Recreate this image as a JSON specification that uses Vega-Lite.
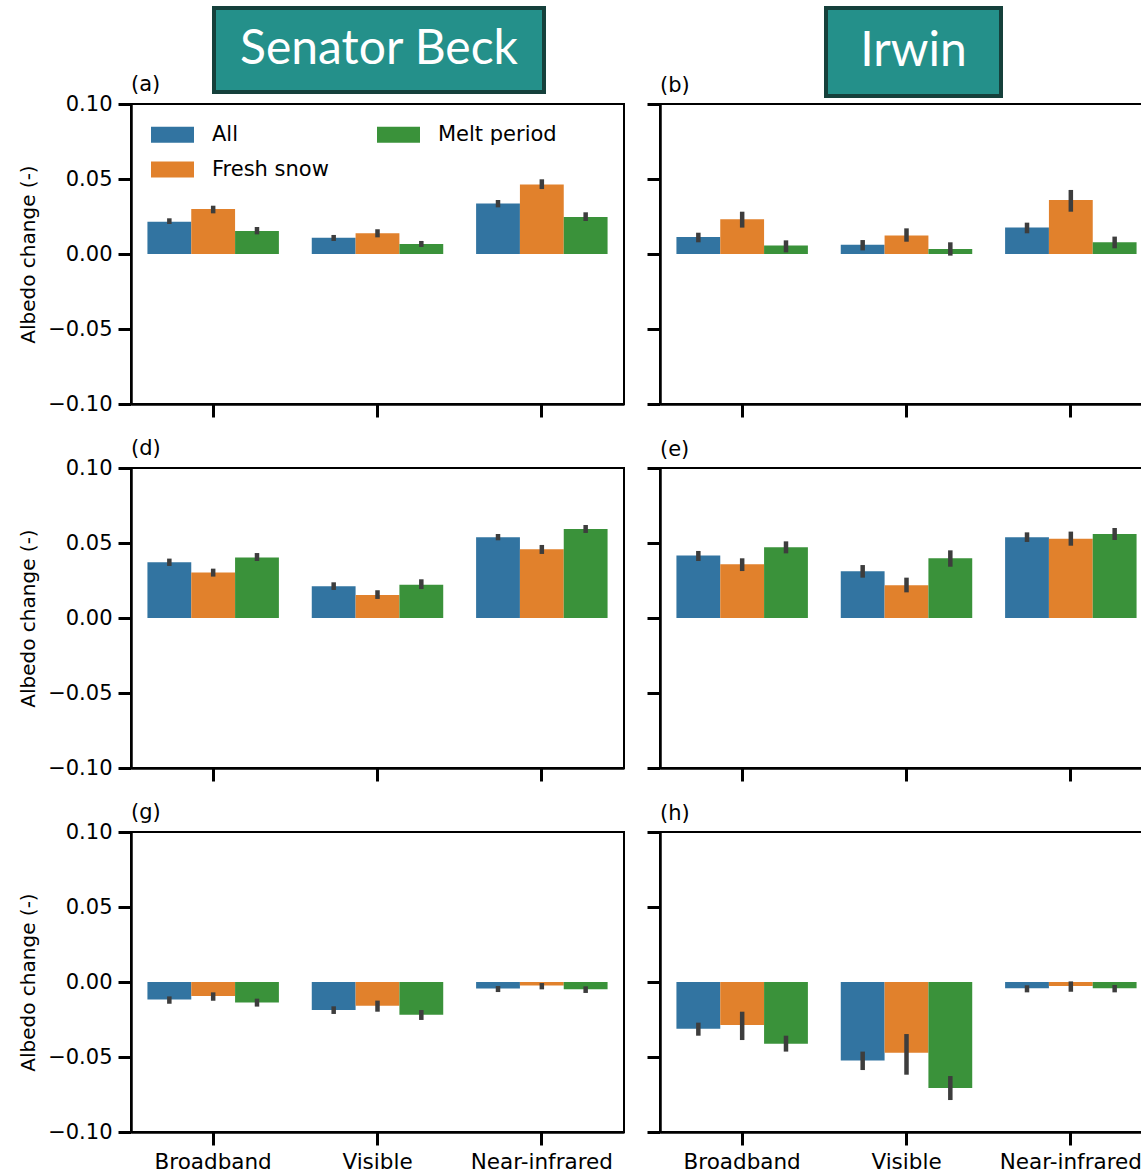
{
  "$schema": "https://vega.github.io/schema/vega-lite/v6.json",
  "padding": {"left": 17, "top": 6, "right": 0, "bottom": 0},
  "bounds": "flush",
  "spacing": 96,
  "config": {
    "view": {"stroke": "black", "strokeWidth": 2},
    "axis": {
      "domainColor": "black", "domainWidth": 2.5,
      "tickColor": "black", "tickWidth": 3, "tickSize": 13,
      "labelFont": "DejaVu Sans", "labelFontSize": 21, "labelColor": "black", "labelPadding": 6,
      "titleFont": "DejaVu Sans", "titleFontSize": 20, "titleFontWeight": "normal", "titleColor": "black",
      "grid": false
    },
    "axisX": {"labelFontSize": 21.5},
    "title": {"font": "DejaVu Sans", "fontSize": 21, "fontWeight": "normal", "anchor": "start", "frame": "group", "color": "black", "offset": 8},
    "legend": {"labelFont": "DejaVu Sans", "labelFontSize": 21, "labelColor": "black"}
  },
  "datasets": {
    "bars": [
      {"panel": "a", "band": "Broadband", "cond": "All", "value": 0.0215, "lo": 0.0200, "hi": 0.0238},
      {"panel": "a", "band": "Broadband", "cond": "Fresh snow", "value": 0.0300, "lo": 0.0271, "hi": 0.0322},
      {"panel": "a", "band": "Broadband", "cond": "Melt period", "value": 0.0153, "lo": 0.0131, "hi": 0.0180},
      {"panel": "a", "band": "Visible", "cond": "All", "value": 0.0109, "lo": 0.0087, "hi": 0.0127},
      {"panel": "a", "band": "Visible", "cond": "Fresh snow", "value": 0.0138, "lo": 0.0111, "hi": 0.0165},
      {"panel": "a", "band": "Visible", "cond": "Melt period", "value": 0.0067, "lo": 0.0047, "hi": 0.0087},
      {"panel": "a", "band": "Near-infrared", "cond": "All", "value": 0.0336, "lo": 0.0311, "hi": 0.0360},
      {"panel": "a", "band": "Near-infrared", "cond": "Fresh snow", "value": 0.0464, "lo": 0.0433, "hi": 0.0498},
      {"panel": "a", "band": "Near-infrared", "cond": "Melt period", "value": 0.0247, "lo": 0.0220, "hi": 0.0278},

      {"panel": "b", "band": "Broadband", "cond": "All", "value": 0.0113, "lo": 0.0078, "hi": 0.0142},
      {"panel": "b", "band": "Broadband", "cond": "Fresh snow", "value": 0.0231, "lo": 0.0176, "hi": 0.0282},
      {"panel": "b", "band": "Broadband", "cond": "Melt period", "value": 0.0056, "lo": 0.0011, "hi": 0.0091},
      {"panel": "b", "band": "Visible", "cond": "All", "value": 0.0062, "lo": 0.0024, "hi": 0.0093},
      {"panel": "b", "band": "Visible", "cond": "Fresh snow", "value": 0.0124, "lo": 0.0082, "hi": 0.0171},
      {"panel": "b", "band": "Visible", "cond": "Melt period", "value": 0.0033, "lo": -0.0011, "hi": 0.0078},
      {"panel": "b", "band": "Near-infrared", "cond": "All", "value": 0.0176, "lo": 0.0138, "hi": 0.0209},
      {"panel": "b", "band": "Near-infrared", "cond": "Fresh snow", "value": 0.0360, "lo": 0.0282, "hi": 0.0427},
      {"panel": "b", "band": "Near-infrared", "cond": "Melt period", "value": 0.0078, "lo": 0.0038, "hi": 0.0116},

      {"panel": "d", "band": "Broadband", "cond": "All", "value": 0.0371, "lo": 0.0347, "hi": 0.0396},
      {"panel": "d", "band": "Broadband", "cond": "Fresh snow", "value": 0.0304, "lo": 0.0276, "hi": 0.0329},
      {"panel": "d", "band": "Broadband", "cond": "Melt period", "value": 0.0404, "lo": 0.0380, "hi": 0.0433},
      {"panel": "d", "band": "Visible", "cond": "All", "value": 0.0211, "lo": 0.0187, "hi": 0.0238},
      {"panel": "d", "band": "Visible", "cond": "Fresh snow", "value": 0.0153, "lo": 0.0127, "hi": 0.0185},
      {"panel": "d", "band": "Visible", "cond": "Melt period", "value": 0.0222, "lo": 0.0193, "hi": 0.0258},
      {"panel": "d", "band": "Near-infrared", "cond": "All", "value": 0.0538, "lo": 0.0518, "hi": 0.0560},
      {"panel": "d", "band": "Near-infrared", "cond": "Fresh snow", "value": 0.0458, "lo": 0.0427, "hi": 0.0487},
      {"panel": "d", "band": "Near-infrared", "cond": "Melt period", "value": 0.0593, "lo": 0.0567, "hi": 0.0620},

      {"panel": "e", "band": "Broadband", "cond": "All", "value": 0.0416, "lo": 0.0380, "hi": 0.0447},
      {"panel": "e", "band": "Broadband", "cond": "Fresh snow", "value": 0.0358, "lo": 0.0313, "hi": 0.0398},
      {"panel": "e", "band": "Broadband", "cond": "Melt period", "value": 0.0471, "lo": 0.0431, "hi": 0.0511},
      {"panel": "e", "band": "Visible", "cond": "All", "value": 0.0311, "lo": 0.0269, "hi": 0.0353},
      {"panel": "e", "band": "Visible", "cond": "Fresh snow", "value": 0.0218, "lo": 0.0171, "hi": 0.0269},
      {"panel": "e", "band": "Visible", "cond": "Melt period", "value": 0.0398, "lo": 0.0342, "hi": 0.0451},
      {"panel": "e", "band": "Near-infrared", "cond": "All", "value": 0.0538, "lo": 0.0507, "hi": 0.0571},
      {"panel": "e", "band": "Near-infrared", "cond": "Fresh snow", "value": 0.0529, "lo": 0.0482, "hi": 0.0576},
      {"panel": "e", "band": "Near-infrared", "cond": "Melt period", "value": 0.0560, "lo": 0.0520, "hi": 0.0600},

      {"panel": "g", "band": "Broadband", "cond": "All", "value": -0.0116, "lo": -0.0145, "hi": -0.0096},
      {"panel": "g", "band": "Broadband", "cond": "Fresh snow", "value": -0.0093, "lo": -0.0125, "hi": -0.0069},
      {"panel": "g", "band": "Broadband", "cond": "Melt period", "value": -0.0136, "lo": -0.0164, "hi": -0.0111},
      {"panel": "g", "band": "Visible", "cond": "All", "value": -0.0187, "lo": -0.0213, "hi": -0.0162},
      {"panel": "g", "band": "Visible", "cond": "Fresh snow", "value": -0.0158, "lo": -0.0198, "hi": -0.0124},
      {"panel": "g", "band": "Visible", "cond": "Melt period", "value": -0.0218, "lo": -0.0253, "hi": -0.0187},
      {"panel": "g", "band": "Near-infrared", "cond": "All", "value": -0.0044, "lo": -0.0067, "hi": -0.0027},
      {"panel": "g", "band": "Near-infrared", "cond": "Fresh snow", "value": -0.0024, "lo": -0.0049, "hi": -0.0007},
      {"panel": "g", "band": "Near-infrared", "cond": "Melt period", "value": -0.0049, "lo": -0.0073, "hi": -0.0029},

      {"panel": "h", "band": "Broadband", "cond": "All", "value": -0.0311, "lo": -0.0358, "hi": -0.0271},
      {"panel": "h", "band": "Broadband", "cond": "Fresh snow", "value": -0.0287, "lo": -0.0387, "hi": -0.0198},
      {"panel": "h", "band": "Broadband", "cond": "Melt period", "value": -0.0411, "lo": -0.0464, "hi": -0.0358},
      {"panel": "h", "band": "Visible", "cond": "All", "value": -0.0524, "lo": -0.0587, "hi": -0.0464},
      {"panel": "h", "band": "Visible", "cond": "Fresh snow", "value": -0.0471, "lo": -0.0618, "hi": -0.0347},
      {"panel": "h", "band": "Visible", "cond": "Melt period", "value": -0.0707, "lo": -0.0787, "hi": -0.0627},
      {"panel": "h", "band": "Near-infrared", "cond": "All", "value": -0.0042, "lo": -0.0069, "hi": -0.0022},
      {"panel": "h", "band": "Near-infrared", "cond": "Fresh snow", "value": -0.0027, "lo": -0.0065, "hi": 0.0004},
      {"panel": "h", "band": "Near-infrared", "cond": "Melt period", "value": -0.0042, "lo": -0.0069, "hi": -0.0020}
    ]
  },
  "vconcat": [
    {
      "bounds": "flush",
      "spacing": 10,
      "hconcat": [
        {"width": 73, "height": 10, "data": {"values": []}, "mark": {"type": "point", "opacity": 0}, "view": {"stroke": null}},
        {
          "width": 330, "height": 84,
          "view": {"fill": "#24908a", "stroke": "#15403b", "strokeWidth": 4},
          "data": {"values": [{"site": "Senator Beck"}]},
          "mark": {"type": "text", "font": "Lato", "fontSize": 48, "color": "white", "align": "center", "baseline": "middle"},
          "encoding": {"text": {"field": "site"}}
        },
        {"width": 262, "height": 10, "data": {"values": []}, "mark": {"type": "point", "opacity": 0}, "view": {"stroke": null}},
        {
          "width": 175, "height": 88,
          "view": {"fill": "#24908a", "stroke": "#15403b", "strokeWidth": 4},
          "data": {"values": [{"site": "Irwin"}]},
          "mark": {"type": "text", "font": "Lato", "fontSize": 48, "color": "white", "align": "center", "baseline": "middle"},
          "encoding": {"text": {"field": "site"}}
        }
      ]
    },
    {
      "bounds": "flush",
      "columns": 2,
      "spacing": {"row": 64, "column": 36},
      "resolve": {"scale": {"color": "independent"}},
      "concat": [
        {
          "width": 493, "height": 300, "title": {"text": "(a)", "dy": 10},
          "data": {"name": "bars"},
          "transform": [{"filter": "datum.panel == 'a'"}],
          "encoding": {
            "x": {"field": "band", "type": "nominal", "title": null, "scale": {"domain": ["Broadband", "Visible", "Near-infrared"], "paddingInner": 0.2, "paddingOuter": 0.1}, "axis": {"labels": false}},
            "xOffset": {"field": "cond", "type": "nominal", "scale": {"domain": ["All", "Fresh snow", "Melt period"], "paddingInner": 0, "paddingOuter": 0}}
          },
          "layer": [
            {
              "mark": {"type": "bar"},
              "encoding": {
                "y": {"field": "value", "type": "quantitative", "title": "Albedo change (-)", "scale": {"domain": [-0.1, 0.1], "nice": false}, "axis": {"values": [-0.1, -0.05, 0, 0.05, 0.1], "format": ".2f", "titlePadding": 9}},
                "color": {"field": "cond", "type": "nominal", "scale": {"domain": ["All", "Fresh snow", "Melt period"], "range": ["#3274a1", "#e1812c", "#3a923a"]},
                  "legend": {"orient": "none", "legendX": 20, "legendY": 9, "columns": 2, "title": null, "symbolType": "M-1,-0.37H1V0.37H-1Z", "symbolSize": 1849, "symbolStrokeWidth": 0, "symbolOpacity": 1, "labelOffset": 18, "columnPadding": 48, "rowPadding": 3}}
              }
            },
            {
              "mark": {"type": "rule", "color": "#3d3d3d", "strokeWidth": 4.5},
              "encoding": {"y": {"field": "lo", "type": "quantitative"}, "y2": {"field": "hi"}}
            }
          ]
        },
        {
          "width": 493, "height": 300, "title": {"text": "(b)", "dy": 1},
          "data": {"name": "bars"},
          "transform": [{"filter": "datum.panel == 'b'"}],
          "encoding": {
            "x": {"field": "band", "type": "nominal", "title": null, "scale": {"domain": ["Broadband", "Visible", "Near-infrared"], "paddingInner": 0.2, "paddingOuter": 0.1}, "axis": {"labels": false}},
            "xOffset": {"field": "cond", "type": "nominal", "scale": {"domain": ["All", "Fresh snow", "Melt period"], "paddingInner": 0, "paddingOuter": 0}}
          },
          "layer": [
            {
              "mark": {"type": "bar"},
              "encoding": {
                "y": {"field": "value", "type": "quantitative", "title": null, "scale": {"domain": [-0.1, 0.1], "nice": false}, "axis": {"values": [-0.1, -0.05, 0, 0.05, 0.1], "labels": false}},
                "color": {"field": "cond", "type": "nominal", "scale": {"domain": ["All", "Fresh snow", "Melt period"], "range": ["#3274a1", "#e1812c", "#3a923a"]}, "legend": null}
              }
            },
            {
              "mark": {"type": "rule", "color": "#3d3d3d", "strokeWidth": 4.5},
              "encoding": {"y": {"field": "lo", "type": "quantitative"}, "y2": {"field": "hi"}}
            }
          ]
        },
        {
          "width": 493, "height": 300, "title": {"text": "(d)", "dy": 10},
          "data": {"name": "bars"},
          "transform": [{"filter": "datum.panel == 'd'"}],
          "encoding": {
            "x": {"field": "band", "type": "nominal", "title": null, "scale": {"domain": ["Broadband", "Visible", "Near-infrared"], "paddingInner": 0.2, "paddingOuter": 0.1}, "axis": {"labels": false}},
            "xOffset": {"field": "cond", "type": "nominal", "scale": {"domain": ["All", "Fresh snow", "Melt period"], "paddingInner": 0, "paddingOuter": 0}}
          },
          "layer": [
            {
              "mark": {"type": "bar"},
              "encoding": {
                "y": {"field": "value", "type": "quantitative", "title": "Albedo change (-)", "scale": {"domain": [-0.1, 0.1], "nice": false}, "axis": {"values": [-0.1, -0.05, 0, 0.05, 0.1], "format": ".2f", "titlePadding": 9}},
                "color": {"field": "cond", "type": "nominal", "scale": {"domain": ["All", "Fresh snow", "Melt period"], "range": ["#3274a1", "#e1812c", "#3a923a"]}, "legend": null}
              }
            },
            {
              "mark": {"type": "rule", "color": "#3d3d3d", "strokeWidth": 4.5},
              "encoding": {"y": {"field": "lo", "type": "quantitative"}, "y2": {"field": "hi"}}
            }
          ]
        },
        {
          "width": 493, "height": 300, "title": {"text": "(e)", "dy": 1},
          "data": {"name": "bars"},
          "transform": [{"filter": "datum.panel == 'e'"}],
          "encoding": {
            "x": {"field": "band", "type": "nominal", "title": null, "scale": {"domain": ["Broadband", "Visible", "Near-infrared"], "paddingInner": 0.2, "paddingOuter": 0.1}, "axis": {"labels": false}},
            "xOffset": {"field": "cond", "type": "nominal", "scale": {"domain": ["All", "Fresh snow", "Melt period"], "paddingInner": 0, "paddingOuter": 0}}
          },
          "layer": [
            {
              "mark": {"type": "bar"},
              "encoding": {
                "y": {"field": "value", "type": "quantitative", "title": null, "scale": {"domain": [-0.1, 0.1], "nice": false}, "axis": {"values": [-0.1, -0.05, 0, 0.05, 0.1], "labels": false}},
                "color": {"field": "cond", "type": "nominal", "scale": {"domain": ["All", "Fresh snow", "Melt period"], "range": ["#3274a1", "#e1812c", "#3a923a"]}, "legend": null}
              }
            },
            {
              "mark": {"type": "rule", "color": "#3d3d3d", "strokeWidth": 4.5},
              "encoding": {"y": {"field": "lo", "type": "quantitative"}, "y2": {"field": "hi"}}
            }
          ]
        },
        {
          "width": 493, "height": 300, "title": {"text": "(g)", "dy": 10},
          "data": {"name": "bars"},
          "transform": [{"filter": "datum.panel == 'g'"}],
          "encoding": {
            "x": {"field": "band", "type": "nominal", "title": null, "scale": {"domain": ["Broadband", "Visible", "Near-infrared"], "paddingInner": 0.2, "paddingOuter": 0.1}, "axis": {"labelAngle": 0}},
            "xOffset": {"field": "cond", "type": "nominal", "scale": {"domain": ["All", "Fresh snow", "Melt period"], "paddingInner": 0, "paddingOuter": 0}}
          },
          "layer": [
            {
              "mark": {"type": "bar"},
              "encoding": {
                "y": {"field": "value", "type": "quantitative", "title": "Albedo change (-)", "scale": {"domain": [-0.1, 0.1], "nice": false}, "axis": {"values": [-0.1, -0.05, 0, 0.05, 0.1], "format": ".2f", "titlePadding": 9}},
                "color": {"field": "cond", "type": "nominal", "scale": {"domain": ["All", "Fresh snow", "Melt period"], "range": ["#3274a1", "#e1812c", "#3a923a"]}, "legend": null}
              }
            },
            {
              "mark": {"type": "rule", "color": "#3d3d3d", "strokeWidth": 4.5},
              "encoding": {"y": {"field": "lo", "type": "quantitative"}, "y2": {"field": "hi"}}
            }
          ]
        },
        {
          "width": 493, "height": 300, "title": {"text": "(h)", "dy": 1},
          "data": {"name": "bars"},
          "transform": [{"filter": "datum.panel == 'h'"}],
          "encoding": {
            "x": {"field": "band", "type": "nominal", "title": null, "scale": {"domain": ["Broadband", "Visible", "Near-infrared"], "paddingInner": 0.2, "paddingOuter": 0.1}, "axis": {"labelAngle": 0}},
            "xOffset": {"field": "cond", "type": "nominal", "scale": {"domain": ["All", "Fresh snow", "Melt period"], "paddingInner": 0, "paddingOuter": 0}}
          },
          "layer": [
            {
              "mark": {"type": "bar"},
              "encoding": {
                "y": {"field": "value", "type": "quantitative", "title": null, "scale": {"domain": [-0.1, 0.1], "nice": false}, "axis": {"values": [-0.1, -0.05, 0, 0.05, 0.1], "labels": false}},
                "color": {"field": "cond", "type": "nominal", "scale": {"domain": ["All", "Fresh snow", "Melt period"], "range": ["#3274a1", "#e1812c", "#3a923a"]}, "legend": null}
              }
            },
            {
              "mark": {"type": "rule", "color": "#3d3d3d", "strokeWidth": 4.5},
              "encoding": {"y": {"field": "lo", "type": "quantitative"}, "y2": {"field": "hi"}}
            }
          ]
        }
      ]
    }
  ]
}
